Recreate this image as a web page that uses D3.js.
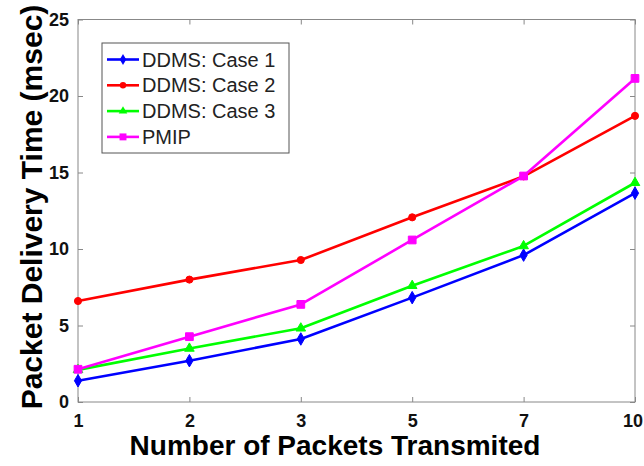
<!DOCTYPE html>
<html><head><meta charset="utf-8">
<script src="https://cdn.jsdelivr.net/npm/d3@7"></script>
<style>body{margin:0;background:#fff}svg{display:block}</style>
</head><body>
<script>
const categories = ["1","2","3","5","7","10"];
const case1 = [1.39, 2.7, 4.12, 6.82, 9.6, 13.65];
const case2 = [6.6, 8.0, 9.28, 12.07, 14.75, 18.7];
const case3 = [2.1, 3.5, 4.82, 7.6, 10.2, 14.33];
const pmip  = [2.14, 4.27, 6.38, 10.59, 14.77, 21.15];
const seriesNames = ["DDMS: Case 1","DDMS: Case 2","DDMS: Case 3","PMIP"];
const yTicks = [0,5,10,15,20,25];

const series = [
  {name: seriesNames[0], values: case1, color: "#0000ff", marker: "diamond"},
  {name: seriesNames[1], values: case2, color: "#ff0000", marker: "circle"},
  {name: seriesNames[2], values: case3, color: "#00ff00", marker: "triangle"},
  {name: seriesNames[3], values: pmip,  color: "#ff00ff", marker: "square"}
];

const W = 644, H = 466;
const L = 78, R = 635, T = 19.5, B = 402;
const svg = d3.select("body").append("svg").attr("width", W).attr("height", H);

const x = d3.scalePoint().domain(categories).range([L, R]);
const y = d3.scaleLinear().domain([0, 25]).range([B, T]);

const font = "Arial, 'Liberation Sans', sans-serif";
const axisColor = "#888";

// box
svg.append("rect").attr("x", L).attr("y", T).attr("width", R - L).attr("height", B - T)
  .attr("fill", "none").attr("stroke", axisColor).attr("stroke-width", 1);

// bottom axis
const xb = svg.append("g").attr("transform", `translate(0,${B})`)
  .call(d3.axisBottom(x).tickSize(-5).tickSizeOuter(0).tickPadding(9));
xb.select(".domain").remove();
xb.selectAll("line").attr("stroke", axisColor);
xb.selectAll("text").attr("font-family", font).attr("font-size", 18).attr("font-weight", "bold")
  .attr("fill", "#111").attr("dy", "0.9em")
  .attr("dx", d => d === categories[categories.length - 1] ? -2.5 : 0);
const xt = svg.append("g").attr("transform", `translate(0,${T})`)
  .call(d3.axisTop(x).tickSize(-5).tickSizeOuter(0).tickFormat(""));
xt.select(".domain").remove();
xt.selectAll("line").attr("stroke", axisColor);

const yl = svg.append("g").attr("transform", `translate(${L},0)`)
  .call(d3.axisLeft(y).tickValues(yTicks).tickSize(-5).tickSizeOuter(0).tickPadding(9));
yl.select(".domain").remove();
yl.selectAll("line").attr("stroke", axisColor);
yl.selectAll("text").attr("font-family", font).attr("font-size", 18).attr("font-weight", "bold").attr("fill", "#111");
const yr = svg.append("g").attr("transform", `translate(${R},0)`)
  .call(d3.axisRight(y).tickValues(yTicks).tickSize(-5).tickSizeOuter(0).tickFormat(""));
yr.select(".domain").remove();
yr.selectAll("line").attr("stroke", axisColor);

// axis titles
svg.append("text").attr("x", 335).attr("y", 455).attr("text-anchor", "middle")
  .attr("font-family", font).attr("font-size", 28).attr("font-weight", "bold").attr("fill", "#000")
  .text("Number of Packets Transmited");
svg.append("text").attr("transform", "translate(41.5,207) rotate(-90)").attr("text-anchor", "middle")
  .attr("font-family", font).attr("font-size", 30).attr("font-weight", "bold").attr("fill", "#000")
  .text("Packet Delivery Time (msec)");

const symbolMap = {diamond: d3.symbolDiamond, circle: d3.symbolCircle, triangle: d3.symbolTriangle, square: d3.symbolSquare};
const symbolSize = {diamond: 45, circle: 40, triangle: 40, square: 60};

const line = d3.line().x((d, i) => x(categories[i])).y(d => y(d));
series.forEach(s => {
  svg.append("path").datum(s.values).attr("d", line).attr("fill", "none")
    .attr("stroke", s.color).attr("stroke-width", 2.6).attr("stroke-linejoin", "round");
  svg.append("g").selectAll("path").data(s.values).join("path")
    .attr("transform", (d, i) => `translate(${x(categories[i])},${y(d)})`)
    .attr("d", d3.symbol().type(symbolMap[s.marker]).size(symbolSize[s.marker]))
    .attr("fill", s.color).attr("stroke", s.color).attr("stroke-width", 1);
});

// legend
const lg = svg.append("g");
lg.append("rect").attr("x", 102).attr("y", 43).attr("width", 187).attr("height", 110)
  .attr("fill", "#fff").attr("stroke", "#555").attr("stroke-width", 1);
series.forEach((s, i) => {
  const cy = 59.5 + i * 25.8;
  lg.append("line").attr("x1", 107).attr("x2", 139).attr("y1", cy).attr("y2", cy)
    .attr("stroke", s.color).attr("stroke-width", 2.6);
  lg.append("path").attr("transform", `translate(123,${cy})`)
    .attr("d", d3.symbol().type(symbolMap[s.marker]).size(symbolSize[s.marker] * 0.8)).attr("fill", s.color);
  lg.append("text").attr("x", 142).attr("y", cy + 7).attr("font-family", font).attr("font-size", 20)
    .attr("fill", "#222").text(s.name);
});
</script>
</body></html>
